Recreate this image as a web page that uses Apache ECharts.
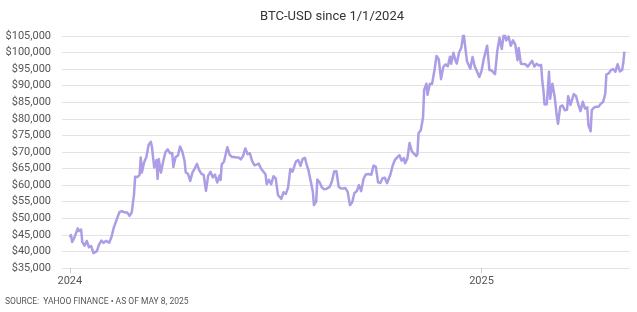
<!DOCTYPE html>
<html><head><meta charset="utf-8">
<script src="https://cdn.jsdelivr.net/npm/echarts@6/dist/echarts.min.js"></script>
<style>html,body{margin:0;padding:0;background:#fff}#c{width:637px;height:312px}</style>
</head><body><div id="c"></div>
<script>
const dates2024 = ['01-01','01-02','01-03','01-05','01-08','01-09','01-11','01-12','01-14','01-16','01-18','01-20','01-22','01-23','01-25','01-27','01-29','01-31',
'02-02','02-05','02-07','02-09','02-12','02-14','02-16','02-19','02-21','02-23','02-25','02-26','02-27','02-28',
'03-01','03-03','03-04','03-05','03-07','03-09','03-11','03-13','03-14','03-16','03-18','03-19','03-20','03-22','03-24','03-26','03-28','03-30',
'04-01','04-02','04-04','04-06','04-08','04-10','04-12','04-13','04-15','04-17','04-19','04-21','04-23','04-25','04-27','04-29','04-30',
'05-01','05-03','05-05','05-07','05-09','05-11','05-13','05-14','05-15','05-17','05-20','05-22','05-24','05-26','05-28','05-30',
'06-01','06-03','06-05','06-07','06-09','06-11','06-13','06-15','06-17','06-19','06-21','06-23','06-24','06-26','06-28','06-30',
'07-02','07-04','07-05','07-07','07-09','07-11','07-13','07-15','07-17','07-20','07-22','07-24','07-26','07-28','07-29','07-31',
'08-02','08-04','08-05','08-07','08-08','08-10','08-12','08-14','08-16','08-19','08-21','08-23','08-25','08-27','08-29','08-31',
'09-02','09-04','09-06','09-08','09-10','09-12','09-14','09-16','09-18','09-20','09-23','09-25','09-27','09-29',
'10-01','10-03','10-05','10-07','10-09','10-10','10-12','10-14','10-16','10-18','10-20','10-22','10-24','10-25','10-27','10-29','10-31',
'11-02','11-04','11-05','11-06','11-08','11-10','11-11','11-13','11-14','11-16','11-18','11-20','11-22','11-24','11-26','11-28','11-30',
'12-02','12-04','12-05','12-07','12-09','12-10','12-12','12-14','12-16','12-17','12-19','12-20','12-22','12-24','12-26','12-28','12-30'];
const values2024 = [44168,44957,42848,44162,46970,46139,46632,42853,41732,43154,41262,41625,39507,39845,40080,42120,43288,42582,
43194,42658,44349,47147,49959,51836,52137,51780,51729,50731,51733,54522,57085,62504,
62440,63114,68330,63801,66920,68500,72123,73083,71397,65316,67549,61912,67913,63778,67211,69987,70780,69645,
69702,65446,68487,68900,71632,70060,67195,63821,63426,61276,63843,64994,66408,64481,63419,63113,60636,
58254,62889,64031,62334,63161,60793,62901,61553,66267,67049,71448,69166,68526,68518,68366,68352,
67760,68804,71082,69355,69648,67321,66011,66191,66490,64960,64097,63180,60277,61612,60320,62678,
62029,57031,56662,55857,57878,57344,59230,64870,64097,67152,67585,65800,67912,68255,66820,64619,
61415,58116,53991,55027,61710,60880,59350,58737,58874,59479,61165,64094,64178,59504,59027,58969,
59119,57970,53969,54841,57650,58127,60005,58192,61759,63193,63329,63143,65888,65602,
60837,60632,62067,62245,60583,60274,63193,65928,67612,68389,69032,67378,68161,66642,67938,72736,70215,
69482,68742,69359,75639,76545,80474,88701,90623,87250,90606,90542,94339,98997,97900,91985,95644,96449,
95865,98768,96593,99920,97432,96676,100043,101459,106029,106140,97490,97755,95104,98676,95795,94284,92643];
const dates2025 = ['01-01','01-03','01-06','01-08','01-10','01-13','01-15','01-17','01-19','01-21','01-23','01-25','01-27','01-29','01-31',
'02-02','02-03','02-05','02-07','02-09','02-11','02-13','02-15','02-17','02-19','02-21','02-23','02-24','02-25','02-26','02-28',
'03-02','03-03','03-05','03-07','03-09','03-10','03-12','03-14','03-16','03-18','03-19','03-21','03-24','03-26','03-28','03-30',
'04-01','04-03','04-05','04-06','04-08','04-09','04-11','04-13','04-15','04-17','04-19','04-21','04-22','04-24','04-26','04-28','04-30',
'05-02','05-04','05-06','05-07','05-08'];
const values2025 = [94419,98107,102078,94700,94566,93516,100505,104462,101089,106146,103653,104819,102082,103709,102405,
97688,101405,96616,96554,96500,95748,96610,97508,95773,96635,96126,96274,91418,88736,84347,84373,
94222,86065,90623,86742,80601,78532,83680,84043,82580,82718,86854,84167,87471,86900,84353,82334,
85180,83102,83504,78214,76271,82573,83404,83684,83669,84542,85064,87519,93441,93700,94714,95043,94207,
96492,94315,94748,96835,100300];
const yearTicks = ['2024-01-01','2025-01-01'];
const yTickLabels = ['$35,000','$40,000','$45,000','$50,000','$55,000','$60,000','$65,000','$70,000','$75,000','$80,000','$85,000','$90,000','$95,000','$100,000','$105,000'];
const titleText = 'BTC-USD since 1/1/2024';
const sourceText = 'SOURCE:  YAHOO FINANCE \u2022 AS OF MAY 8, 2025';

const ts = s => Date.UTC(+s.slice(0,4), +s.slice(5,7)-1, +s.slice(8,10));
const seriesData = dates2024.map((d,i)=>[ts('2024-'+d), values2024[i]])
  .concat(dates2025.map((d,i)=>[ts('2025-'+d), values2025[i]]));
const yearTs = yearTicks.map(ts);
const FONT = 'Roboto';
const chart = echarts.init(document.getElementById('c'), null, {renderer:'canvas'});
chart.setOption({
  animation:false,
  backgroundColor:'#fff',
  graphic:[
    {type:'text',x:332,y:17,style:{text:titleText,fontFamily:FONT,fontSize:13,fill:'#333',align:'center',verticalAlign:'middle'}},
    {type:'text',left:5,top:297,style:{text:sourceText,fontFamily:FONT,fontSize:8.5,fill:'#555'}}],
  grid:{left:62,right:7,top:36,bottom:44,containLabel:false},
  xAxis:{type:'value',min:ts('2023-12-25'),max:ts('2025-05-13'),
    axisLine:{show:false},
    axisTick:{show:true,customValues:yearTs,length:5,lineStyle:{color:'#ccc'}},
    axisLabel:{customValues:yearTs,formatter:v=>String(new Date(v).getUTCFullYear()),fontFamily:FONT,fontSize:11,color:'#555',margin:8},
    splitLine:{show:false}},
  yAxis:{type:'value',min:35000,max:105000,interval:5000,
    axisLine:{show:false},axisTick:{show:false},
    axisLabel:{formatter:v=>yTickLabels[Math.round((v-35000)/5000)],fontFamily:FONT,fontSize:11,color:'#555',margin:11},
    splitLine:{lineStyle:{color:'#e2e2e2',width:1}}},
  series:[{type:'line',data:seriesData,showSymbol:false,symbol:'none',
    lineStyle:{color:'#ad9de6',width:2.5,join:'round'},itemStyle:{color:'#ad9de6'}}]
});
</script></body></html>
